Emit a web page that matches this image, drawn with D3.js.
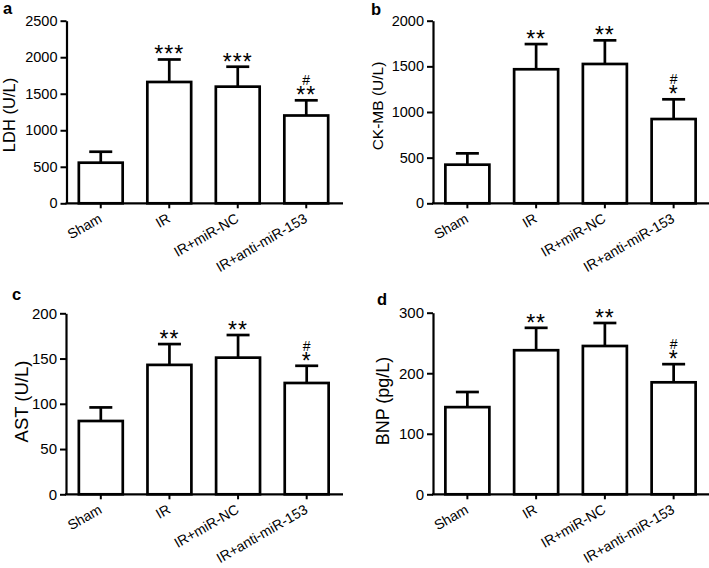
<!DOCTYPE html>
<html>
<head>
<meta charset="utf-8">
<script src="https://cdn.jsdelivr.net/npm/d3@7"></script>
<style>
html,body{margin:0;padding:0;background:#fff;}
svg{display:block;}
text{font-family:Arial,"Liberation Sans",sans-serif;fill:#000;}
</style>
</head>
<body>
<svg id="chart" width="709" height="568"></svg>
<script>
// ---------- data ----------
const categories = ["Sham", "IR", "IR+miR-NC", "IR+anti-miR-153"];

const ldhMean = [556, 1661, 1597, 1202];
const ldhSD   = [150, 308, 273, 208];
const ldhStars = ["", "***", "***", "**"];
const ldhTicks = [0, 500, 1000, 1500, 2000, 2500];

const ckmbMean = [423, 1468, 1526, 923];
const ckmbSD   = [124, 276, 259, 216];
const ckmbStars = ["", "**", "**", "*"];
const ckmbTicks = [0, 500, 1000, 1500, 2000];

const astMean = [81, 143, 151, 123];
const astSD   = [15, 23, 25, 19];
const astStars = ["", "**", "**", "*"];
const astTicks = [0, 50, 100, 150, 200];

const bnpMean = [144, 238, 245, 185];
const bnpSD   = [25, 37, 38, 30];
const bnpStars = ["", "**", "**", "*"];
const bnpTicks = [0, 100, 200, 300];

const hashMarks = ["", "", "", "#"];

const panelLetters = ["a", "b", "c", "d"];
const yLabels = ["LDH (U/L)", "CK-MB (U/L)", "AST (U/L)", "BNP (pg/L)"];

// ---------- layout ----------
const panels = [
  {letter: panelLetters[0], label: yLabels[0], mean: ldhMean, sd: ldhSD, stars: ldhStars, ticks: ldhTicks,
   axisX: 66.5, bandR: [66.5, 340.5], axisEnd: 343, y0: 203.3, yTop: 20.7,
   letterPos: [3, 13.5], labelPos: [15, 115], labelSize: 16.5, tickSize: 14.5},
  {letter: panelLetters[1], label: yLabels[1], mean: ckmbMean, sd: ckmbSD, stars: ckmbStars, ticks: ckmbTicks,
   axisX: 433, bandR: [433, 708], axisEnd: 709, y0: 203.3, yTop: 20.7,
   letterPos: [371, 15], labelPos: [383, 106], labelSize: 15.5, tickSize: 14.5},
  {letter: panelLetters[2], label: yLabels[2], mean: astMean, sd: astSD, stars: astStars, ticks: astTicks,
   axisX: 66, bandR: [66.5, 341], axisEnd: 343, y0: 494.3, yTop: 313.3,
   letterPos: [12, 300], labelPos: [28, 401.5], labelSize: 18.5, tickSize: 15},
  {letter: panelLetters[3], label: yLabels[3], mean: bnpMean, sd: bnpSD, stars: bnpStars, ticks: bnpTicks,
   axisX: 433, bandR: [433, 708], axisEnd: 709, y0: 494.3, yTop: 312.7,
   letterPos: [377, 305], labelPos: [389, 401], labelSize: 18, tickSize: 15}
];

const svg = d3.select("#chart");

panels.forEach(p => {
  const g = svg.append("g");
  const rows = categories.map((c, i) => ({cat: c, mean: p.mean[i], sd: p.sd[i], star: p.stars[i], hash: hashMarks[i]}));

  const x = d3.scaleBand().domain(categories).range(p.bandR).paddingInner(0.36).paddingOuter(0.18);
  const y = d3.scaleLinear().domain([0, d3.max(p.ticks)]).range([p.y0, p.yTop]);

  // bars
  g.selectAll("rect.bar").data(rows).join("rect")
    .attr("class", "bar")
    .attr("x", d => x(d.cat))
    .attr("width", x.bandwidth())
    .attr("y", d => y(d.mean))
    .attr("height", d => y(0) - y(d.mean))
    .attr("fill", "#fff").attr("stroke", "#000").attr("stroke-width", 2.7);

  // error bars (upper only)
  const cx = d => x(d.cat) + x.bandwidth() / 2;
  g.selectAll("line.err").data(rows).join("line")
    .attr("class", "err")
    .attr("x1", cx).attr("x2", cx)
    .attr("y1", d => y(d.mean)).attr("y2", d => y(d.mean + d.sd))
    .attr("stroke", "#000").attr("stroke-width", 2.7);
  g.selectAll("line.cap").data(rows).join("line")
    .attr("class", "cap")
    .attr("x1", d => cx(d) - 11.5).attr("x2", d => cx(d) + 11.5)
    .attr("y1", d => y(d.mean + d.sd)).attr("y2", d => y(d.mean + d.sd))
    .attr("stroke", "#000").attr("stroke-width", 2.7);

  // significance marks
  g.selectAll("text.star").data(rows.filter(d => d.star)).join("text")
    .attr("class", "star")
    .attr("x", cx)
    .attr("y", d => y(d.mean + d.sd) + 3)
    .attr("text-anchor", "middle")
    .style("font-size", "23px")
    .style("letter-spacing", "1px")
    .text(d => d.star);
  g.selectAll("text.hash").data(rows.filter(d => d.hash)).join("text")
    .attr("class", "hash")
    .attr("x", cx)
    .attr("y", d => y(d.mean + d.sd) - 15)
    .attr("text-anchor", "middle")
    .style("font-size", "14px")
    .text(d => d.hash);

  // y axis
  const yAxis = d3.axisLeft(y).tickValues(p.ticks).tickFormat(d3.format("d")).tickSize(6).tickSizeOuter(0).tickPadding(3);
  const ya = g.append("g").attr("transform", `translate(${p.axisX},0)`).call(yAxis);
  ya.select(".domain").attr("stroke-width", 2.2);
  ya.selectAll(".tick line").attr("stroke-width", 2);
  ya.selectAll(".tick text").style("font-size", p.tickSize + "px").style("font-family", "Arial, 'Liberation Sans', sans-serif");

  // x axis
  const xAxis = d3.axisBottom(x).tickSize(5).tickSizeOuter(0).tickFormat("");
  const xa = g.append("g").attr("transform", `translate(0,${p.y0})`).call(xAxis);
  xa.select(".domain").remove();
  xa.selectAll(".tick line").attr("stroke-width", 2);
  g.append("line")
    .attr("x1", p.axisX - 1).attr("x2", p.axisEnd)
    .attr("y1", p.y0).attr("y2", p.y0)
    .attr("stroke", "#000").attr("stroke-width", 2.2);

  // category labels
  g.selectAll("text.cat").data(categories).join("text")
    .attr("class", "cat")
    .attr("transform", c => `translate(${x(c) + x.bandwidth() / 2 + 2},${p.y0 + 18}) rotate(-30)`)
    .attr("text-anchor", "end")
    .style("font-size", "14px")
    .text(c => c);

  // y label
  g.append("text")
    .attr("transform", `translate(${p.labelPos[0]},${p.labelPos[1]}) rotate(-90)`)
    .attr("text-anchor", "middle")
    .style("font-size", p.labelSize + "px")
    .text(p.label);

  // panel letter
  g.append("text")
    .attr("x", p.letterPos[0]).attr("y", p.letterPos[1])
    .style("font-size", "16.5px").style("font-weight", "bold")
    .text(p.letter);
});
</script>
</body>
</html>
